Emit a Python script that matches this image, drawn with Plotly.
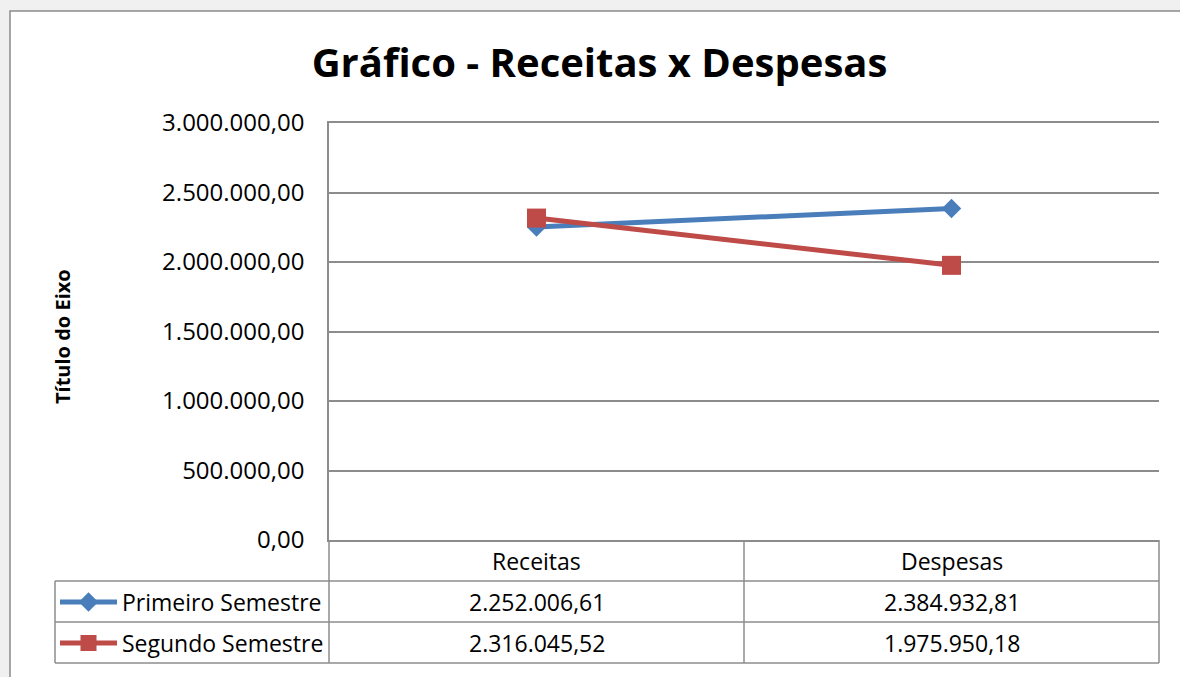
import plotly.graph_objects as go

categories = ["Receitas", "Despesas"]
series_names = ["Primeiro Semestre", "Segundo Semestre"]
primeiro = [2252006.61, 2384932.81]
segundo = [2316045.52, 1975950.18]
y_ticks = [0, 500000, 1000000, 1500000, 2000000, 2500000, 3000000]

title_text = "Gráfico - Receitas x Despesas"
y_title = "Título do Eixo"

BLUE = "#4A7EBB"
RED = "#BE4B48"
GRID = "#8C8C8C"
FONT = "Open Sans"

W, H = 1180, 677
L, R, T, B = 329, 21, 123, 137
PW, PH = W - L - R, H - T - B


def px_x(p):
    return (p - L) / PW


def px_y(p):
    return (H - B - p) / PH


def fmt_br(v):
    s = f"{v:,.2f}"
    return s.replace(",", "X").replace(".", ",").replace("X", ".")


fig = go.Figure()
fig.add_trace(go.Scatter(
    x=categories, y=primeiro, name=series_names[0], mode="lines+markers",
    line=dict(color=BLUE, width=5),
    marker=dict(symbol="diamond", size=15, color=BLUE),
    legend="legend",
))
fig.add_trace(go.Scatter(
    x=categories, y=segundo, name=series_names[1], mode="lines+markers",
    line=dict(color=RED, width=5),
    marker=dict(symbol="square", size=19, color=RED),
    legend="legend2",
))

shapes = []
shapes.append(dict(type="rect", xref="paper", yref="paper",
                   x0=px_x(10), x1=px_x(1200), y0=px_y(700), y1=px_y(11),
                   fillcolor="white", line=dict(color="#8A8A8A", width=1.5),
                   layer="below"))
line_style = dict(color=GRID, width=1.5)
y_hdr_top = px_y(540)
y_rows = [px_y(581), px_y(622), px_y(663)]
for yy in y_rows:
    shapes.append(dict(type="line", xref="paper", yref="paper",
                       x0=px_x(55), x1=1, y0=yy, y1=yy, line=line_style))
shapes.append(dict(type="line", xref="paper", yref="paper",
                   x0=0, x1=0, y0=y_hdr_top, y1=y_rows[-1], line=line_style))
shapes.append(dict(type="line", xref="paper", yref="paper",
                   x0=1, x1=1, y0=y_hdr_top, y1=y_rows[-1], line=line_style))
shapes.append(dict(type="line", xref="x", yref="paper",
                   x0=0.5, x1=0.5, y0=y_hdr_top, y1=y_rows[-1], line=line_style))
shapes.append(dict(type="line", xref="paper", yref="paper",
                   x0=px_x(55), x1=px_x(55), y0=y_rows[0], y1=y_rows[-1], line=line_style))

annotations = []
cell_font = dict(family=FONT, size=23, color="#000000")
for i, c in enumerate(categories):
    annotations.append(dict(x=c, xref="x", y=px_y(561), yref="paper", text=c,
                            showarrow=False, font=cell_font, xanchor="center", yanchor="middle"))
    annotations.append(dict(x=c, xref="x", y=px_y(602), yref="paper", text=fmt_br(primeiro[i]),
                            showarrow=False, font=cell_font, xanchor="center", yanchor="middle"))
    annotations.append(dict(x=c, xref="x", y=px_y(643), yref="paper", text=fmt_br(segundo[i]),
                            showarrow=False, font=cell_font, xanchor="center", yanchor="middle"))
annotations.append(dict(x=px_x(62), xref="paper", y=px_y(337), yref="paper", text="<b>" + y_title + "</b>",
                        textangle=-90, showarrow=False,
                        font=dict(family=FONT, size=20, color="#000000"),
                        xanchor="center", yanchor="middle"))

legend_common = dict(x=px_x(55), xanchor="left", yanchor="middle",
                     bgcolor="rgba(0,0,0,0)", font=dict(family=FONT, size=23, color="#000000"),
                     itemwidth=57)

fig.update_layout(
    width=W, height=H,
    margin=dict(l=L, r=R, t=T, b=B, pad=0),
    paper_bgcolor="#F0F0F0",
    plot_bgcolor="white",
    separators=",.",
    title=dict(text="<b>" + title_text + "</b>", x=599.5 / W, xanchor="center",
               y=1 - 63 / H, yanchor="middle", xref="container", yref="container",
               font=dict(family=FONT, size=40, color="#000000")),
    xaxis=dict(type="category", range=[-0.5, 1.5], showticklabels=False,
               showgrid=False, zeroline=False, showline=True, mirror=True,
               linecolor=GRID, linewidth=1.5, ticks=""),
    yaxis=dict(range=[0, 3000000], tickvals=y_ticks, tickformat=",.2f",
               showgrid=True, gridcolor=GRID, gridwidth=1.5, zeroline=False,
               showline=True, linecolor=GRID, linewidth=1.5, ticks="",
               ticklabelstandoff=18,
               tickfont=dict(family=FONT, size=24, color="#000000")),
    legend=dict(y=px_y(602), **legend_common),
    legend2=dict(y=px_y(643), **legend_common),
    shapes=shapes,
    annotations=annotations,
    showlegend=True,
)

fig.write_html("out.html", config={"displayModeBar": False},
               post_script="document.body.style.margin='0';document.body.style.padding='0';")
